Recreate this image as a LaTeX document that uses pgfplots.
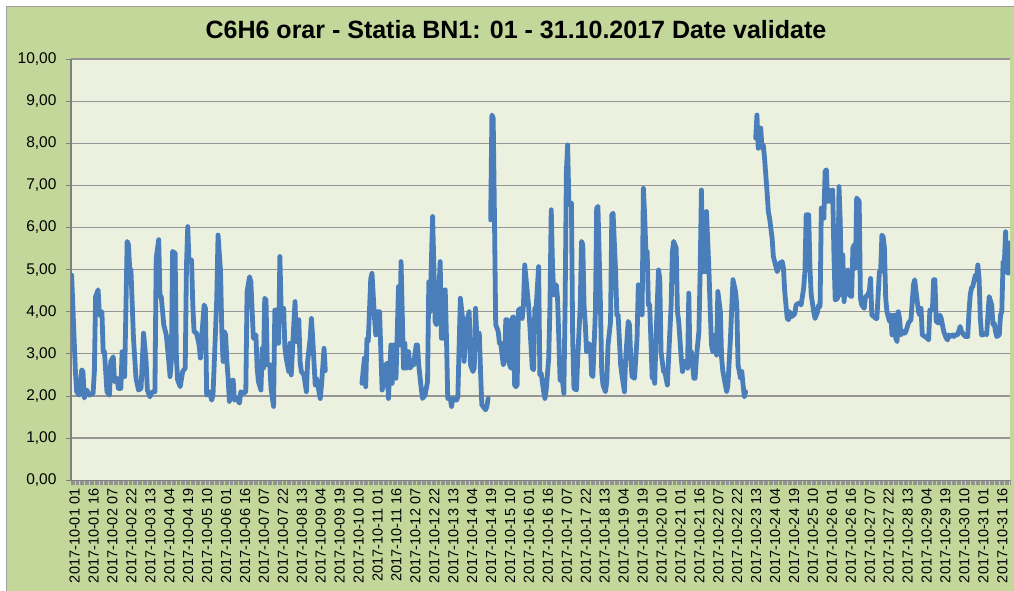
\documentclass[border=0pt]{standalone}
\usepackage{pgfplots}
\pgfplotsset{compat=1.18}
\usepackage{fontspec}
\setmainfont{Liberation Sans}
\definecolor{chartbg}{HTML}{C4D79B}
\definecolor{plotbg}{HTML}{EBF1DE}
\definecolor{linec}{HTML}{4A7EBB}
\definecolor{gridc}{HTML}{959595}
\begin{document}
\begin{tikzpicture}
\useasboundingbox (0pt,0pt) rectangle (1014pt,591pt);
\fill[white] (0pt,0pt) rectangle (1014pt,591pt);
\filldraw[fill=chartbg, draw=gray!75, line width=1pt] (6.5pt,-20pt) rectangle (1030pt,584pt);
\node[font=\fontsize{25}{29}\selectfont\bfseries] at (516pt,561pt) {C6H6 orar - Statia BN1: 01 - 31.10.2017 Date validate};
\begin{axis}[
  at={(71pt,110.8pt)}, anchor=south west, scale only axis,
  width=939pt, height=421.2pt,
  xmin=-0.5, xmax=743.5, ymin=0, ymax=10,
  axis background/.style={fill=plotbg},
  axis lines*=left,
  axis line style={draw=gray, line width=1.2pt},
  ytick={0,1,...,10},
  ymajorgrids,
  major grid style={gridc, line width=1.2pt},
  tick align=outside,
  major tick length=5pt,
  minor tick length=4.5pt,
  tick style={gray, line width=0.8pt},
  every major x tick/.append style={draw=none},
  every minor x tick/.append style={draw=gray!85, line width=0.6pt},
  minor xtick={-0.5,0.5,...,743.5},
  xtick={0,15,...,735},
  xticklabels={2017-10-01 01,2017-10-01 16,2017-10-02 07,2017-10-02 22,2017-10-03 13,2017-10-04 04,2017-10-04 19,2017-10-05 10,2017-10-06 01,2017-10-06 16,2017-10-07 07,2017-10-07 22,2017-10-08 13,2017-10-09 04,2017-10-09 19,2017-10-10 10,2017-10-11 01,2017-10-11 16,2017-10-12 07,2017-10-12 22,2017-10-13 13,2017-10-14 04,2017-10-14 19,2017-10-15 10,2017-10-16 01,2017-10-16 16,2017-10-17 07,2017-10-17 22,2017-10-18 13,2017-10-19 04,2017-10-19 19,2017-10-20 10,2017-10-21 01,2017-10-21 16,2017-10-22 07,2017-10-22 22,2017-10-23 13,2017-10-24 04,2017-10-24 19,2017-10-25 10,2017-10-26 01,2017-10-26 16,2017-10-27 07,2017-10-27 22,2017-10-28 13,2017-10-29 04,2017-10-29 19,2017-10-30 10,2017-10-31 01,2017-10-31 16},
  xticklabel style={rotate=90, anchor=east, font=\fontsize{14.5}{16}\selectfont, yshift=-3pt},
  yticklabel style={font=\fontsize{15.5}{17}\selectfont, xshift=-6pt,
    /pgf/number format/fixed, /pgf/number format/fixed zerofill,
    /pgf/number format/precision=2, /pgf/number format/use comma,
    /pgf/number format/assume math mode=true},
  unbounded coords=jump,
]
\addplot[linec, line width=4.8pt, line join=round, line cap=round] coordinates {
(0,4.87) (3,2.58) (4,2.1) (6,2.02) (8,2.62) (9,2.58) (10,1.95) (12,2.14) (14,2.02) (17,2.06) (18,2.58) (19,4.36) (21,4.52) (22,3.92) (24,4.0) (25,3.05) (26,3.05) (28,2.1) (30,2.02) (31,2.82) (33,2.93) (34,2.34) (36,2.42) (37,2.18) (39,2.18) (40,3.05) (42,2.46) (44,5.67) (45,5.59) (46,5.03) (47,4.99) (49,3.37) (51,2.42) (53,2.14) (55,2.18) (56,2.82) (57,3.49) (59,2.82) (60,2.14) (62,1.98) (64,2.1) (66,2.1) (67,5.27) (69,5.71) (70,4.36) (71,4.36) (73,3.69) (75,3.45) (77,2.82) (78,2.46) (79,2.82) (80,5.43) (82,5.39) (83,2.9) (84,2.38) (86,2.22) (88,2.58) (90,2.66) (91,5.11) (92,6.02) (93,5.19) (95,5.23) (96,4.16) (97,3.53) (99,3.49) (101,3.21) (102,2.9) (103,3.37) (105,4.16) (106,4.08) (107,2.02) (109,2.1) (111,1.9) (112,2.02) (114,3.53) (115,4.32) (116,5.82) (118,4.95) (119,3.53) (120,2.82) (121,3.53) (122,3.45) (123,2.82) (124,2.42) (125,1.87) (126,2.34) (128,2.38) (129,1.9) (131,1.94) (133,1.83) (134,2.1) (136,2.06)
(138,2.1) (139,4.48) (141,4.83) (142,4.71) (144,3.37) (146,3.45) (147,2.66) (148,2.34) (150,2.14) (151,3.13) (152,2.66) (153,4.32) (154,4.28) (155,2.74) (157,2.74) (158,2.18) (160,1.75) (161,4.04) (162,4.04) (164,3.25) (165,5.31) (166,4.08) (168,4.08) (169,3.13) (170,2.9) (172,2.58) (173,3.25) (174,2.5) (176,3.69) (177,4.24) (178,3.29) (180,3.81) (181,2.82) (182,2.58) (184,2.5) (186,2.1) (187,2.82) (189,3.37) (190,3.84) (191,3.37) (193,2.26) (194,2.42) (195,2.26) (197,1.94) (198,2.26) (200,3.13) (201,2.6)
(215,nan)
(230,2.3) (232,2.9) (233,2.22) (234,3.37) (235,3.29) (237,4.79) (238,4.91) (240,3.84) (241,3.45) (242,4.0) (244,4.0) (245,3.05) (246,2.14) (247,2.26) (249,2.74) (250,2.78) (251,1.94) (253,3.21) (254,2.3) (255,3.21) (256,3.21) (257,2.42) (259,4.6) (260,3.21) (261,5.19) (263,2.66) (264,3.25) (265,2.66) (267,3.05) (268,2.66) (270,2.74) (271,2.74) (273,3.21) (274,3.21) (275,2.74) (277,2.18) (278,1.94) (280,2.02) (282,2.34) (283,4.71) (284,4.0) (286,6.26) (287,5.1) (288,3.77) (289,3.69) (291,4.48) (292,5.19) (293,3.37) (295,3.37) (296,4.52) (297,3.37) (298,1.94) (300,1.94) (301,1.75) (302,1.94) (305,1.9) (306,1.98) (308,4.32) (310,3.77) (311,2.82) (312,3.37) (313,3.77) (315,4.0) (316,2.74) (318,2.58) (319,2.66) (320,4.08) (321,3.45) (323,3.49) (324,2.58) (325,1.79) (328,1.67) (329,1.75) (330,1.94)
(331,nan)
(332,6.18) (333,8.67) (334,8.6) (335,6.3) (336,3.69) (338,3.53) (339,3.25) (340,3.25) (342,2.74) (343,2.82) (344,3.81) (345,3.81) (347,2.74) (348,2.66) (349,3.84) (350,3.88) (351,2.26) (352,2.22) (353,2.26) (354,4.04) (356,4.08) (357,3.84) (358,4.16) (359,5.11) (361,4.48) (362,4.16) (363,3.69) (365,2.66) (366,2.62) (367,4.08) (368,4.08) (370,5.07) (371,2.5) (372,2.54) (374,2.1) (375,1.94) (376,2.14) (378,2.9) (379,4.16) (380,6.42) (381,5.11) (382,4.4) (384,4.64) (385,4.32) (386,3.37) (387,2.38) (389,2.34) (390,2.06) (391,4.16) (392,7.33) (393,7.96) (394,6.54) (396,6.58) (397,3.37) (398,2.18) (400,2.14) (401,2.9) (403,4.16) (404,5.67) (405,5.59) (406,4.16) (407,3.69) (408,3.05) (409,3.25) (411,3.21) (412,2.5) (413,2.46) (415,4.0) (416,6.46) (417,6.5) (419,4.16) (420,2.58) (421,2.26) (423,2.1) (424,2.34) (425,3.21) (427,3.77) (428,6.3) (429,6.34) (431,4.95) (432,3.92) (433,3.92) (435,2.74) (436,2.5) (438,2.1) (439,2.9) (441,3.77) (442,3.69) (443,2.9) (444,2.46) (446,2.42) (448,3.37) (449,4.64) (450,4.0) (452,3.92) (453,6.93) (454,6.3) (455,5.43) (456,5.43) (457,4.16) (458,4.16) (460,2.42) (461,2.5) (462,2.3) (463,3.37) (465,4.99) (466,4.79) (467,3.05) (469,2.58) (470,2.58) (472,2.26) (473,2.9) (475,4.16) (476,5.43) (477,5.67) (479,5.51) (480,4.0) (481,3.77) (483,2.9) (484,2.58) (485,2.82) (487,2.82) (488,2.66) (489,4.44) (490,2.74) (491,3.05) (493,2.42) (494,2.42) (495,2.9) (497,3.53) (498,4.95) (499,6.89) (500,4.95) (501,5.59) (502,4.95) (503,6.38) (505,4.95) (506,4.0) (507,3.21) (508,3.05) (510,3.45) (511,2.97) (512,4.48) (514,4.0) (515,2.9) (516,2.58) (518,2.26) (519,2.1) (520,2.26) (522,3.37) (523,4.08) (524,4.76) (526,4.48) (527,4.16) (528,2.74) (530,2.42) (531,2.58) (532,2.26) (533,1.98) (534,2.1)
(538,nan)
(542,8.12) (543,8.67) (544,7.88) (546,8.36) (547,7.88) (548,7.96) (549,7.65) (551,6.85) (552,6.38) (553,6.22) (555,5.75) (556,5.31) (557,5.19) (559,4.95) (560,5.03) (561,5.15) (563,5.19) (564,5.03) (565,4.48) (567,3.84) (568,3.81) (569,4.0) (570,3.88) (572,3.92) (573,3.96) (574,4.16) (576,4.2) (577,4.2) (578,4.16) (580,4.56) (581,4.95) (582,6.3) (584,6.3) (585,5.03) (586,4.4) (588,4.0) (589,3.84) (590,3.92) (591,4.0) (592,4.16) (593,4.12) (594,6.46) (596,6.22) (597,7.33) (598,7.37) (599,6.62) (600,6.89) (601,6.62) (603,6.89) (604,5.35) (605,4.28) (607,4.32) (608,6.97) (609,6.14) (610,4.4) (611,5.35) (612,4.24) (614,4.95) (615,4.99) (616,4.4) (618,4.36) (619,5.51) (620,5.59) (621,5.03) (622,6.7) (624,6.62) (625,4.32) (626,4.16) (628,4.08) (629,4.36) (630,4.36) (632,4.48) (633,4.79) (634,3.92) (636,3.88) (637,3.84) (638,3.84) (640,4.95) (641,4.95) (642,5.82) (643,5.78) (644,5.51) (645,4.32) (646,4.0) (648,3.77) (649,3.92) (650,3.45) (652,3.92) (653,3.37) (654,3.29) (655,4.0) (656,3.84) (657,3.45) (659,3.53) (660,3.49) (661,3.53) (663,3.73) (664,3.77) (665,3.81) (667,4.64) (668,4.76) (669,4.48) (671,4.0) (672,3.92) (673,4.08) (674,3.45) (676,3.41) (678,3.37) (679,3.33) (680,4.04) (682,4.04) (683,4.76) (684,4.76) (685,3.77) (687,3.73) (688,3.92) (689,3.84) (691,3.53) (693,3.37) (694,3.33) (695,3.45) (696,3.41) (698,3.45) (699,3.41) (700,3.45) (702,3.45) (704,3.65) (705,3.53) (707,3.45) (708,3.41) (710,3.41) (711,4.0) (712,4.4) (713,4.56) (714,4.6) (716,4.87) (717,4.76) (718,5.11) (719,4.79) (720,3.84) (721,3.45) (722,3.45) (724,3.49) (725,3.45) (726,3.92) (727,4.36) (729,4.16) (730,3.69) (731,3.73) (732,3.53) (733,3.41) (735,3.45) (736,3.92) (737,4.0) (738,5.19) (739,5.15) (740,5.9) (741,4.95) (742,4.91) (743,5.63)
};
\end{axis}
\end{tikzpicture}
\end{document}
